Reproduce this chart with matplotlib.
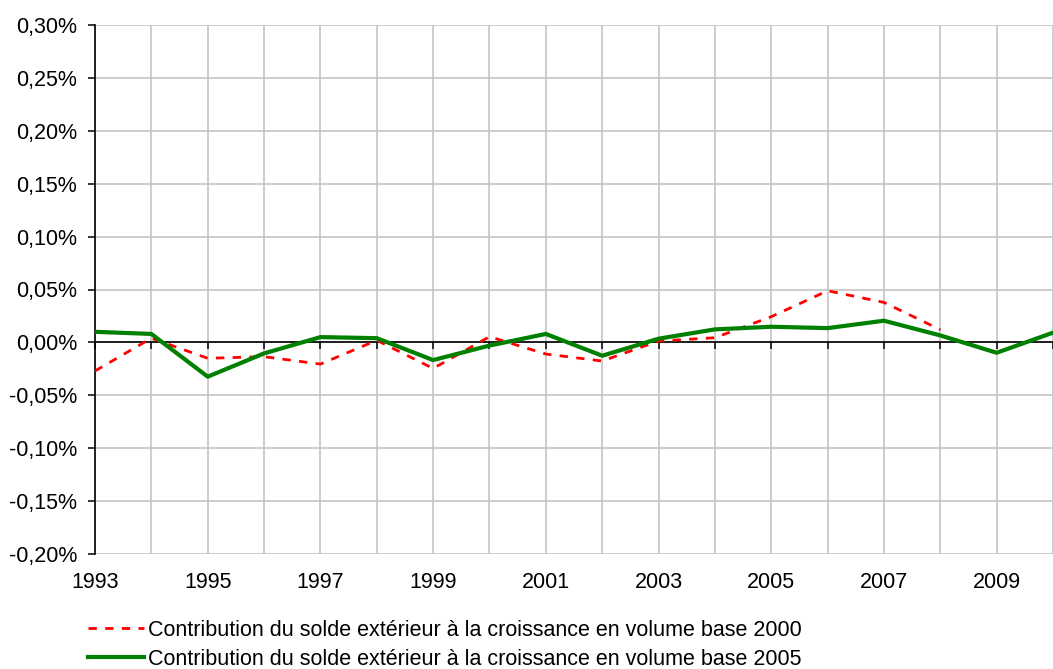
import matplotlib
matplotlib.use("Agg")
import matplotlib.pyplot as plt
from matplotlib.ticker import FuncFormatter

plt.rcParams['font.family'] = ['Liberation Sans', 'DejaVu Sans']

years_2000 = [1993, 1994, 1995, 1996, 1997, 1998, 1999, 2000, 2001, 2002, 2003, 2004, 2005, 2006, 2007, 2008]
base_2000 = [-0.027, 0.004, -0.015, -0.0135, -0.0205, 0.002, -0.0246, 0.0054, -0.011, -0.0176, 0.0013, 0.0044, 0.0243, 0.0488, 0.0378, 0.012]

years_2005 = [1993, 1994, 1995, 1996, 1997, 1998, 1999, 2000, 2001, 2002, 2003, 2004, 2005, 2006, 2007, 2008, 2009, 2010]
base_2005 = [0.010, 0.008, -0.0324, -0.0104, 0.005, 0.004, -0.0167, -0.003, 0.008, -0.0126, 0.0035, 0.0123, 0.0148, 0.0135, 0.0205, 0.0066, -0.0098, 0.0092]

label_2000 = "Contribution du solde extérieur à la croissance en volume base 2000"
label_2005 = "Contribution du solde extérieur à la croissance en volume base 2005"

yticks = [-0.20, -0.15, -0.10, -0.05, 0.0, 0.05, 0.10, 0.15, 0.20, 0.25, 0.30]
xticks = list(range(1993, 2011))
xlabels = [str(y) if y % 2 == 1 else "" for y in xticks]

W, H = 1053, 669
fig = plt.figure(figsize=(W / 100, H / 100), dpi=100)
ax = fig.add_axes([95 / W, 1 - 554 / H, 1 - 95 / W, (554 - 25) / H])

fs = 15.5
ax.plot(years_2000, base_2000, color='#ff0000', lw=2.0, dashes=(3.0, 3.0), label=label_2000, zorder=4)
ax.plot(years_2005, base_2005, color='#008000', lw=3.0, label=label_2005, zorder=5)

ax.set_xlim(1993, 2009.85)
ax.set_ylim(-0.20, 0.30)
ax.set_yticks(yticks)
ax.yaxis.set_major_formatter(FuncFormatter(lambda v, p: ("%.2f%%" % v).replace('.', ',').replace('-0,00', '0,00')))
ax.set_xticks(xticks)
ax.set_xticklabels(xlabels)
ax.grid(True, color='#c0c0c0', lw=1.1, zorder=0)
ax.set_axisbelow(True)

for s in ['top', 'right', 'bottom']:
    ax.spines[s].set_visible(False)
ax.spines['left'].set_color('black')
ax.spines['left'].set_linewidth(1.2)
ax.tick_params(axis='y', direction='out', length=5, width=1.1, labelsize=fs, pad=8)
ax.tick_params(axis='x', length=0, labelsize=fs, pad=13)

# zero line with year ticks
ax.axhline(0, color='black', lw=1.2, zorder=3)
sec = ax.secondary_xaxis(0.4)
sec.set_zorder(3)
sec.set_xticks(xticks)
sec.set_xticklabels([])
sec.tick_params(direction='out', length=5, width=1.1, color='black')
sec.spines['bottom'].set_visible(False)

leg = ax.legend(loc='upper left', bbox_to_anchor=(88 / W, 1 - 620 / H), bbox_transform=fig.transFigure,
                frameon=False, fontsize=fs, handlelength=2.6, handletextpad=0.2, labelspacing=0.35,
                borderpad=0, borderaxespad=0)

fig.savefig('out.png', dpi=100)
